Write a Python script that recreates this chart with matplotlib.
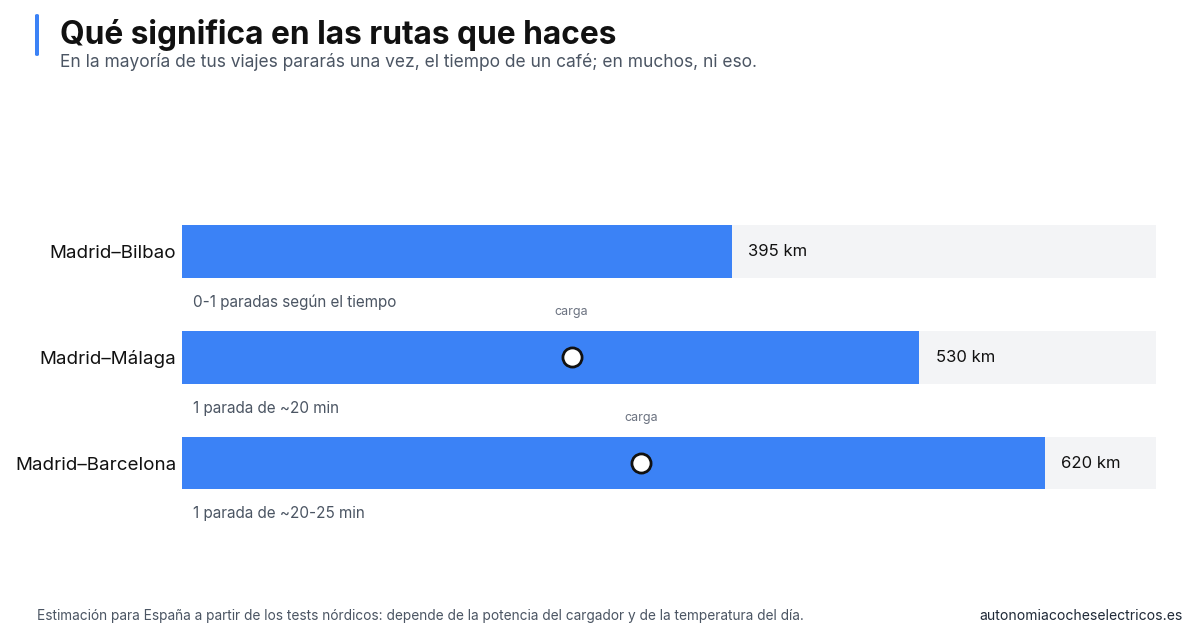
import matplotlib
matplotlib.use("Agg")
import matplotlib.pyplot as plt
from matplotlib.patches import FancyBboxPatch

plt.rcParams['font.family'] = ['Inter', 'DejaVu Sans']

routes = ["Madrid–Bilbao", "Madrid–Málaga", "Madrid–Barcelona"]
distances_km = [395, 530, 620]
charge_stop_km = [None, 280, 330]
notes = ["0-1 paradas según el tiempo", "1 parada de ~20 min", "1 parada de ~20-25 min"]
track_max_km = 700

title = "Qué significa en las rutas que haces"
subtitle = "En la mayoría de tus viajes pararás una vez, el tiempo de un café; en muchos, ni eso."
footer_left = "Estimación para España a partir de los tests nórdicos: depende de la potencia del cargador y de la temperatura del día."
footer_right = "autonomiacocheselectricos.es"

BLUE = "#3b82f6"
TRACK = "#f3f4f6"

W, H = 1200, 641
fig = plt.figure(figsize=(W / 100, H / 100), dpi=100)
fig.patch.set_facecolor("white")

ax_left, ax_right = 182, 1156
ax_top, ax_bot = 145, 570
ax = fig.add_axes([ax_left / W, 1 - ax_bot / H, (ax_right - ax_left) / W, (ax_bot - ax_top) / H])
unit = 105.75
ax.set_xlim(0, track_max_km)
ax.set_ylim((ax_bot - 251.5) / unit, -(251.5 - ax_top) / unit)
ax.axis("off")

bar_h = 0.5
for i, (r, d, c, n) in enumerate(zip(routes, distances_km, charge_stop_km, notes)):
    ax.barh(i, track_max_km, height=bar_h, color=TRACK, zorder=1)
    ax.barh(i, d, height=bar_h, color=BLUE, zorder=2)
    ax.text(d + 12, i, f"{d} km", ha="left", va="center", fontsize=12, color="#111111", zorder=3)
    ax.text(-4, i + 0.02, r, ha="right", va="center", fontsize=13.5, color="#111111", zorder=3)
    ax.text(8, i + 0.48, n, ha="left", va="center", fontsize=11, color="#4b5563", zorder=3)
    if c is not None:
        ax.scatter([c], [i], s=190, facecolor="white", edgecolor="#111111", linewidth=2, zorder=4)
        ax.text(c, i - 0.43, "carga", ha="center", va="center", fontsize=9, color="#6b7280", zorder=3)

# accent bar
acc = FancyBboxPatch((35 / W, 1 - 56 / H), 4 / W, 42 / H, boxstyle="round,pad=0,rounding_size=0.002",
                     transform=fig.transFigure, facecolor=BLUE, edgecolor="none")
fig.patches.append(acc)

fig.text(60 / W, 1 - 35 / H, title, ha="left", va="center", fontsize=22.8, fontweight="bold", color="#111111")
fig.text(60 / W, 1 - 62 / H, subtitle, ha="left", va="center", fontsize=12.5, color="#4b5563")
fig.text(37 / W, 1 - 616 / H, footer_left, ha="left", va="center", fontsize=9.85, color="#4b5563")
fig.text(1183 / W, 1 - 616 / H, footer_right, ha="right", va="center", fontsize=10.1, color="#1f2937")

fig.savefig("out.png", dpi=100, facecolor="white")
